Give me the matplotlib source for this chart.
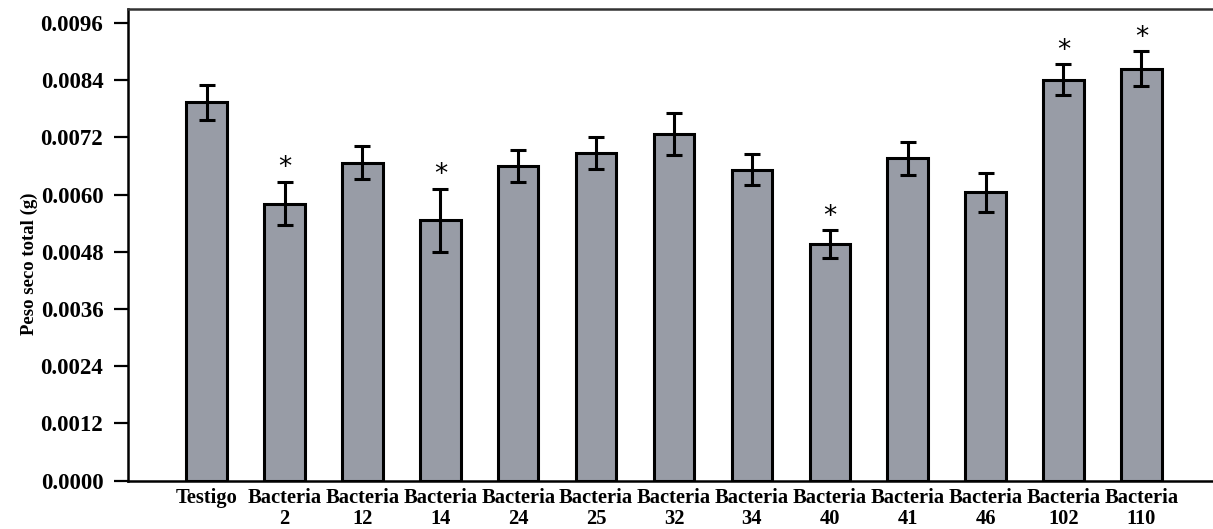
import matplotlib
matplotlib.use("Agg")
import matplotlib.pyplot as plt
import numpy as np

categories = ["Testigo", "Bacteria\n2", "Bacteria\n12", "Bacteria\n14", "Bacteria\n24",
              "Bacteria\n25", "Bacteria\n32", "Bacteria\n34", "Bacteria\n40", "Bacteria\n41",
              "Bacteria\n46", "Bacteria\n102", "Bacteria\n110"]
peso_seco = [0.00793, 0.00581, 0.00667, 0.00546, 0.00660, 0.00687, 0.00727,
             0.00652, 0.00496, 0.00676, 0.00605, 0.00841, 0.00864]
error_std = [0.00037, 0.00045, 0.00035, 0.00066, 0.00034, 0.00033, 0.00044,
             0.00033, 0.00029, 0.00035, 0.00041, 0.00032, 0.00036]
significant = [False, True, False, True, False, False, False,
               False, True, False, False, True, True]
y_ticks = [0.0000, 0.0012, 0.0024, 0.0036, 0.0048, 0.0060, 0.0072, 0.0084, 0.0096]

plt.rcParams["font.family"] = ["Liberation Serif", "DejaVu Serif"]
plt.rcParams["font.weight"] = "bold"

fig = plt.figure(figsize=(12.13, 5.29), dpi=100)
ax = fig.add_axes([128.3 / 1213, 1 - 480.7 / 529, 1 - 128.3 / 1213, (480.7 - 9) / 529])

x = np.arange(len(categories))
ax.bar(x, peso_seco, width=0.52, color="#989ca6", edgecolor="black", linewidth=2.2,
       yerr=error_std, capsize=6,
       error_kw=dict(elinewidth=2.2, capthick=2.2, ecolor="black"))

# asterisks over the treatments that differ from the control
for xi, m, e, s in zip(x, peso_seco, error_std, significant):
    if s:
        ax.annotate("*", xy=(xi, m + e), xytext=(0, 0.5), textcoords="offset points",
                    ha="center", va="bottom", fontsize=19, fontweight="normal",
                    family="DejaVu Sans")

ax.set_xlim(-1.006, 12.92)
ax.set_ylim(0, 0.00989)
ax.set_yticks(y_ticks)
ax.set_yticklabels([f"{t:.4f}" for t in y_ticks], fontsize=16.5, fontweight="bold")
ax.set_xticks(x)
ax.set_xticklabels(categories, fontsize=14.8, fontweight="bold", linespacing=1.12)
ax.tick_params(axis="x", length=0, pad=5)
ax.tick_params(axis="y", length=10, width=1.6, pad=8, direction="out")

ax.set_ylabel("Peso seco total (g)", fontsize=13.5, fontweight="bold")
ax.yaxis.set_label_coords(-0.083, 0.46)

for side in ["left", "bottom", "top"]:
    ax.spines[side].set_linewidth(1.8)
ax.spines["right"].set_visible(False)
ax.spines["top"].set_color("#333333")

fig.savefig("out.png", dpi=100)
